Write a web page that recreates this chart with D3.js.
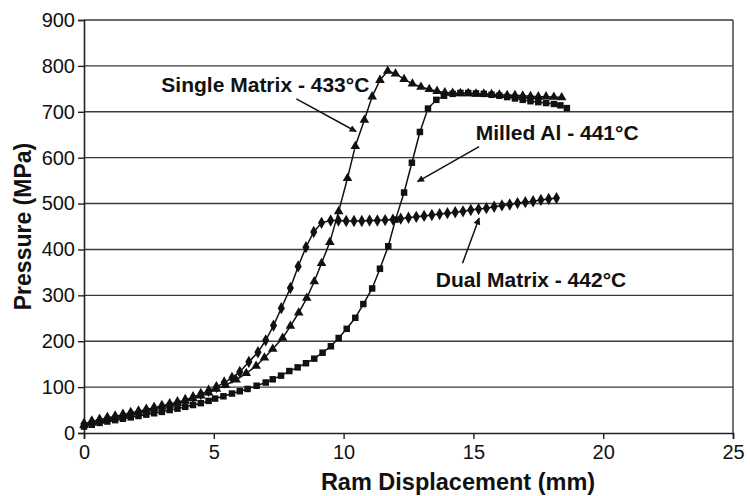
<!DOCTYPE html>
<html>
<head>
<meta charset="utf-8">
<script src="https://cdn.jsdelivr.net/npm/d3@7"></script>
<style>
    body { margin: 0; background: #fff; }
    text { font-family: Arial, "Liberation Sans", sans-serif; fill: #111; }
</style>
</head>
<body>
<div id="divGrafica"></div>
<script>

// datos (mm, MPa)
var dualX = [0, 0.3, 0.6, 0.9, 1.2, 1.5, 1.8, 2.1, 2.4, 2.7, 3.0, 3.3, 3.6, 3.9, 4.2, 4.5, 4.8, 5.1, 5.4, 5.7, 6.0,
    6.35, 6.7, 7.0, 7.3, 7.6, 7.95, 8.25, 8.55, 8.85, 9.15,
    9.5, 9.8, 10.1, 10.4, 10.7, 11.0, 11.3, 11.6, 11.9, 12.2, 12.5, 12.8, 13.1, 13.4, 13.7,
    14.0, 14.3, 14.6, 14.9, 15.2, 15.5, 15.8, 16.1, 16.4, 16.7, 17.0, 17.3, 17.6, 17.9, 18.2];
var dualY = [20, 25, 29, 33, 36, 40, 44, 47, 51, 55, 59, 63, 67, 72, 78, 85, 92, 100, 110, 120, 133,
    155, 176, 202, 234, 272, 316, 363, 405, 438, 458,
    463, 463, 462, 462, 462, 463, 463, 464, 465, 467, 469, 471, 473, 475, 477,
    479, 481, 483, 486, 488, 490, 493, 496, 498, 501, 503, 505, 508, 510, 512];

var singleX = [0, 0.3, 0.6, 0.9, 1.2, 1.5, 1.8, 2.1, 2.4, 2.7, 3.0, 3.3, 3.6, 3.9, 4.2, 4.5, 4.8, 5.1, 5.45,
    5.86, 6.25, 6.63, 6.95, 7.27, 7.65, 7.95, 8.27, 8.58, 8.87, 9.15, 9.47, 9.81, 10.15, 10.45, 10.8,
    11.1, 11.4, 11.7, 12.0, 12.33, 12.65, 12.98, 13.3, 13.6, 13.9, 14.2, 14.5, 14.8, 15.1, 15.4,
    15.7, 16.0, 16.3, 16.6, 16.9, 17.2, 17.5, 17.8, 18.1, 18.4];
var singleY = [17, 22, 26, 30, 34, 37, 41, 45, 49, 53, 57, 61, 65, 70, 75, 81, 88, 96, 104,
    116, 130, 146, 164, 183, 207, 233, 262, 294, 330, 370, 416, 483, 555, 625, 682,
    733, 769, 789, 783, 771, 761, 754, 749, 745, 742, 741, 740, 740, 739, 739,
    738, 737, 736, 736, 735, 734, 733, 733, 732, 731];

var milledX = [0, 0.3, 0.6, 0.9, 1.2, 1.5, 1.8, 2.1, 2.4, 2.7, 3.0, 3.3, 3.6, 3.9, 4.2, 4.5, 4.8, 5.05, 5.37,
    5.7, 6.0, 6.3, 6.65, 7.0, 7.27, 7.59, 7.91, 8.23, 8.55, 8.87, 9.19, 9.51, 9.81, 10.12, 10.45,
    10.76, 11.1, 11.4, 11.72, 12.0, 12.33, 12.63, 12.94, 13.25, 13.57, 13.87, 14.2, 14.5, 14.8, 15.1,
    15.4, 15.7, 16.0, 16.3, 16.6, 16.9, 17.2, 17.5, 17.8, 18.1, 18.35, 18.6];
var milledY = [14, 18, 22, 25, 28, 31, 34, 37, 40, 43, 46, 50, 53, 57, 61, 65, 70, 75, 80,
    86, 91, 96, 103, 110, 117, 125, 135, 143, 152, 162, 175, 189, 207, 227, 251,
    281, 315, 358, 407, 465, 524, 589, 656, 707, 726, 735, 739, 741, 741, 740,
    739, 737, 735, 732, 729, 726, 723, 721, 719, 717, 714, 708];

var xTicks = [0, 5, 10, 15, 20, 25];
var yTicks = [0, 100, 200, 300, 400, 500, 600, 700, 800, 900];

// etiquetas: texto, posicion (mm, MPa), flecha desde -> hasta
var etiquetas = ["Single Matrix - 433°C", "Milled Al - 441°C", "Dual Matrix - 442°C"];
var etiquetaPos = [[2.98, 743], [15.09, 638], [13.55, 319]];
var flechaDesde = [[8.18, 728], [15.22, 624], [14.58, 370]];
var flechaHasta = [[10.48, 657], [12.85, 548], [15.22, 468]];


dibujaGrafica();


function dibujaGrafica() {
    var ancho = 750, alto = 496;
    var margen = { top: 20, right: 17, bottom: 63, left: 84 };

    var svg = d3.select("#divGrafica").append("svg")
        .attr("width", ancho)
        .attr("height", alto);

    svg.append("defs").append("marker")
        .attr("id", "punta")
        .attr("viewBox", "0 0 10 10")
        .attr("refX", 9)
        .attr("refY", 5)
        .attr("markerWidth", 8)
        .attr("markerHeight", 7)
        .attr("markerUnits", "userSpaceOnUse")
        .attr("orient", "auto")
        .append("path")
        .attr("d", "M0,0 L10,5 L0,10 z")
        .attr("fill", "#111");

    var x = d3.scaleLinear().domain([0, 25]).range([margen.left, ancho - margen.right]);
    var y = d3.scaleLinear().domain([0, 900]).range([alto - margen.bottom, margen.top]);

    // lineas de cuadricula
    svg.append("g")
        .selectAll("line")
        .data(yTicks.slice(1))
        .enter().append("line")
        .attr("x1", x(0))
        .attr("x2", x(25))
        .attr("y1", function (d) { return y(d); })
        .attr("y2", function (d) { return y(d); })
        .attr("stroke", "#3a3a3a")
        .attr("stroke-width", 1.4);

    // borde derecho
    svg.append("line")
        .attr("x1", x(25)).attr("x2", x(25))
        .attr("y1", y(0)).attr("y2", y(900))
        .attr("stroke", "#3a3a3a")
        .attr("stroke-width", 1.4);

    var ejeX = svg.append("g")
        .attr("transform", "translate(0," + y(0) + ")")
        .call(d3.axisBottom(x).tickValues(xTicks).tickSize(6).tickPadding(6));
    var ejeY = svg.append("g")
        .attr("transform", "translate(" + x(0) + ",0)")
        .call(d3.axisLeft(y).tickValues(yTicks).tickSize(6).tickPadding(3));

    [ejeX, ejeY].forEach(function (eje) {
        eje.select(".domain").attr("stroke", "#222").attr("stroke-width", 1.6);
        eje.selectAll(".tick line").attr("stroke", "#222").attr("stroke-width", 1.4);
        eje.selectAll(".tick text")
            .style("font-family", "Arial, 'Liberation Sans', sans-serif")
            .style("font-size", "20px")
            .attr("fill", "#222");
    });

    // titulos de ejes
    svg.append("text")
        .attr("x", 458)
        .attr("y", 490)
        .attr("text-anchor", "middle")
        .style("font-size", "23.5px")
        .style("font-weight", "bold")
        .text("Ram Displacement (mm)");

    svg.append("text")
        .attr("transform", "translate(31," + ((y(0) + y(900)) / 2) + ") rotate(-90)")
        .attr("text-anchor", "middle")
        .style("font-size", "23px")
        .style("font-weight", "bold")
        .text("Pressure (MPa)");

    // series
    var series = [
        { xs: dualX, ys: dualY, simbolo: d3.symbolDiamond, tam: 44 },
        { xs: singleX, ys: singleY, simbolo: d3.symbolTriangle, tam: 40 },
        { xs: milledX, ys: milledY, simbolo: d3.symbolSquare, tam: 42 }
    ];

    var linea = d3.line()
        .x(function (d) { return x(d[0]); })
        .y(function (d) { return y(d[1]); });

    series.forEach(function (s) {
        var puntos = s.xs.map(function (v, i) { return [v, s.ys[i]]; });
        svg.append("path")
            .datum(puntos)
            .attr("d", linea)
            .attr("fill", "none")
            .attr("stroke", "#111")
            .attr("stroke-width", 1.5);
        svg.append("g")
            .selectAll("path")
            .data(puntos)
            .enter().append("path")
            .attr("transform", function (d) { return "translate(" + x(d[0]) + "," + y(d[1]) + ")"; })
            .attr("d", d3.symbol().type(s.simbolo).size(s.tam))
            .attr("fill", "#111");
    });

    // anotaciones con flechas
    for (var i = 0; i < etiquetas.length; i++) {
        svg.append("text")
            .attr("x", x(etiquetaPos[i][0]))
            .attr("y", y(etiquetaPos[i][1]))
            .style("font-size", "21px")
            .style("font-weight", "bold")
            .text(etiquetas[i]);
        svg.append("line")
            .attr("x1", x(flechaDesde[i][0]))
            .attr("y1", y(flechaDesde[i][1]))
            .attr("x2", x(flechaHasta[i][0]))
            .attr("y2", y(flechaHasta[i][1]))
            .attr("stroke", "#111")
            .attr("stroke-width", 1.5)
            .attr("marker-end", "url(#punta)");
    }
}
</script>
</body>
</html>
